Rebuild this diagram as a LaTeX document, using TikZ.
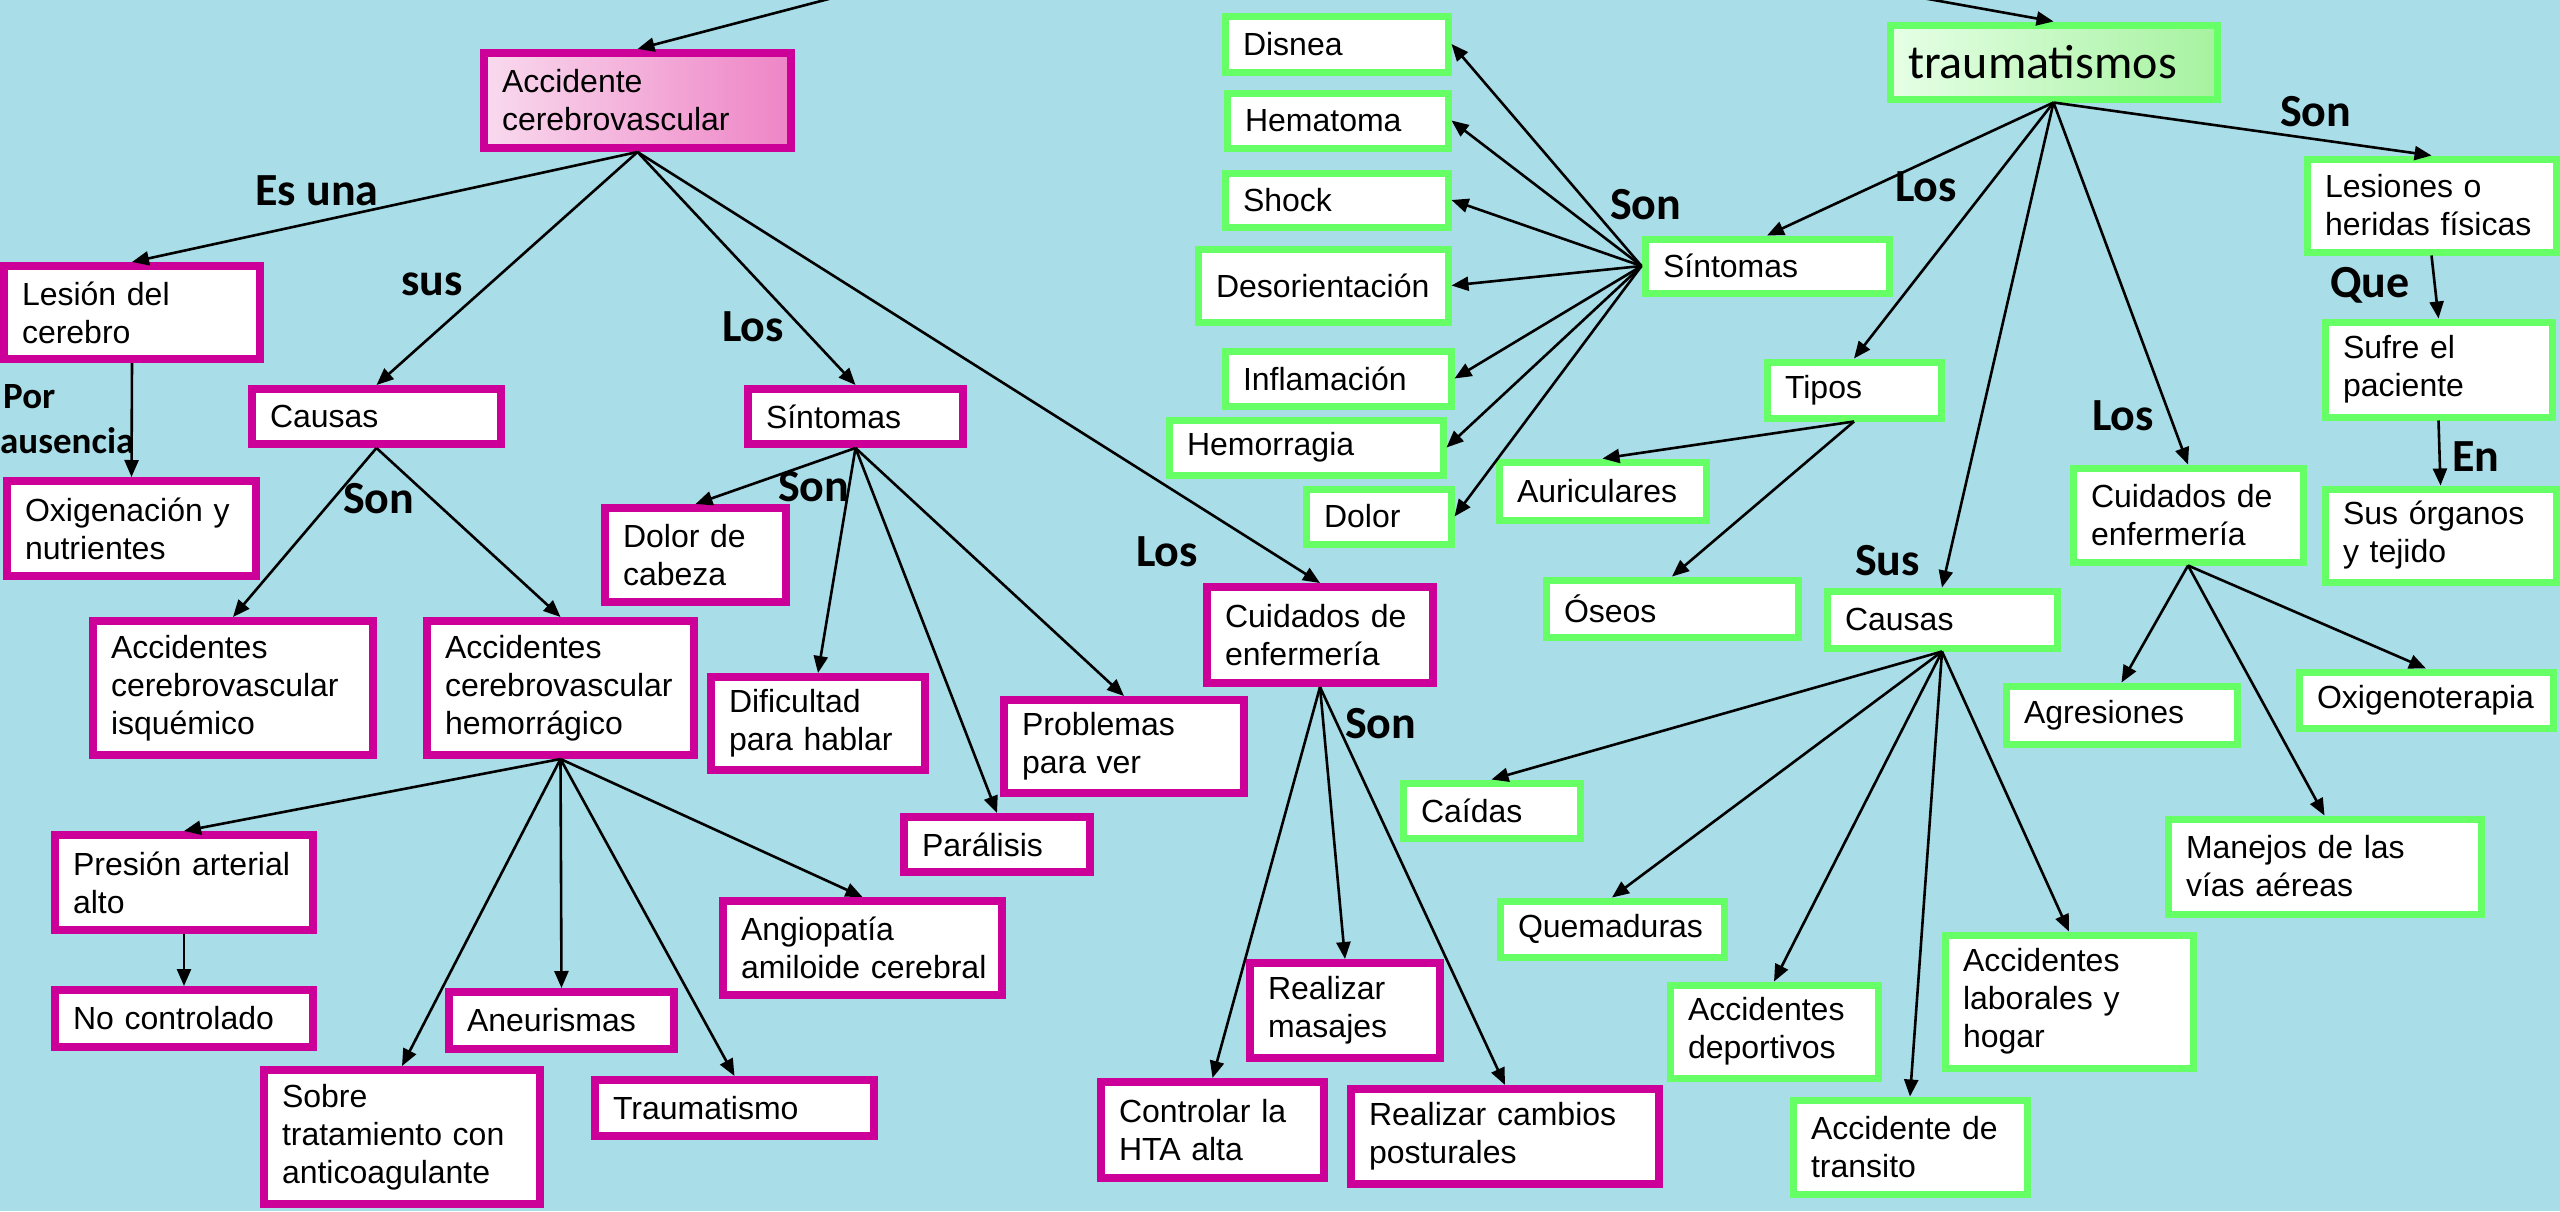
\documentclass[tikz,border=0pt]{standalone}
\usepackage{fontspec}
\setmainfont{Liberation Sans}
\newfontfamily\carlitofam{Carlito}
\usetikzlibrary{arrows.meta}
\definecolor{bgc}{HTML}{A9DDE7}
\definecolor{mag}{HTML}{CC0099}
\definecolor{grn}{HTML}{66FF66}
\definecolor{pinkL}{HTML}{F9DAEE}
\definecolor{pinkR}{HTML}{EE84C6}
\definecolor{grnL}{HTML}{E6FFE6}
\definecolor{grnR}{HTML}{A6F2A0}
\newcommand\myboxfont{\fontsize{32}{38}\selectfont\hyphenpenalty=10000\exhyphenpenalty=10000\relax}
\newcommand\mylblfont{\carlitofam\bfseries\fontsize{46}{50}\selectfont}
\newcommand\mysmallfont{\carlitofam\bfseries\fontsize{37}{45}\selectfont}
\newcommand\mytraumfont{\carlitofam\fontsize{48}{54}\selectfont}
% #1 style, #2 name, #3 x1, #4 y1, #5 x2, #6 y2, #7 text
\newcommand\mkbox[7]{%
  \pgfmathsetmacro\mkbW{#5-#3-8}%
  \pgfmathsetmacro\mkbH{#6-#4-8}%
  \pgfmathsetmacro\mkbT{#5-#3-44}%
  \node[#1, minimum width=\mkbW pt, minimum height=\mkbH pt, text width=\mkbT pt] (#2) at ({(#3+#5)/2},{(#4+#6)/2}) {#7};%
}
\tikzset{
  pbox/.style={draw=mag, line width=8pt, fill=white, inner xsep=10pt, inner ysep=0pt, align=left, font=\myboxfont},
  gbox/.style={pbox, draw=grn, line width=7pt},
  arr/.style={-{Triangle[length=17pt,width=14pt]}, line width=2.6pt, draw=black},
  lbl/.style={font=\mylblfont, inner sep=0pt, anchor=base west},
  slbl/.style={font=\mysmallfont, inner sep=0pt, anchor=base west},
}
\begin{document}
\hyphenpenalty=10000
\exhyphenpenalty=10000
\begin{tikzpicture}[x=1pt, y=-1pt]
\path[use as bounding box, fill=bgc] (0,0) rectangle (2560,1211);

% ---------------- pink (left) map ----------------
\mkbox{pbox, left color=pinkL, right color=pinkR}{acv}{480}{49}{795}{152}{Accidente\\cerebrovascular}
\mkbox{pbox}{lesion}{0}{262}{264}{363}{Lesión~del\\cerebro}
\mkbox{pbox}{oxig}{3}{477}{260}{580}{Oxigenación~y\\nutrientes}
\mkbox{pbox}{causasA}{248}{385}{505}{448}{Causas}
\mkbox{pbox}{sintA}{744}{385}{967}{448}{Síntomas}
\mkbox{pbox}{isq}{89}{617}{377}{759}{Accidentes\\cerebrovascular\\isquémico}
\mkbox{pbox}{hem}{423}{617}{698}{759}{Accidentes\\cerebrovascular\\hemorrágico}
\mkbox{pbox}{dolcab}{601}{504}{790}{606}{Dolor~de\\cabeza}
\mkbox{pbox}{dific}{707}{673}{929}{774}{Dificultad\\para~hablar}
\mkbox{pbox}{probl}{1000}{696}{1248}{797}{Problemas\\para~ver}
\mkbox{pbox}{paral}{900}{813}{1094}{876}{Parálisis}
\mkbox{pbox}{presion}{51}{831}{317}{934}{Presión~arterial\\alto}
\mkbox{pbox}{nocont}{51}{986}{317}{1051}{No~controlado}
\mkbox{pbox}{aneur}{445}{988}{678}{1053}{Aneurismas}
\mkbox{pbox}{sobre}{260}{1066}{544}{1208}{Sobre\\tratamiento~con\\anticoagulante}
\mkbox{pbox}{traumat}{591}{1076}{878}{1140}{Traumatismo}
\mkbox{pbox}{angio}{719}{897}{1006}{999}{Angiopatía\\\mbox{amiloide cerebral}}
\mkbox{pbox}{cuidA}{1203}{583}{1437}{687}{Cuidados~de\\enfermería}
\mkbox{pbox}{masaj}{1246}{959}{1444}{1062}{Realizar\\masajes}
\mkbox{pbox}{contr}{1097}{1078}{1328}{1182}{Controlar~la\\HTA~alta}
\mkbox{pbox}{postur}{1347}{1085}{1663}{1188}{Realizar~cambios\\posturales}

% ---------------- green (right) map ----------------
\mkbox{gbox, left color=grnL, right color=grnR, font=\mytraumfont}{traum}{1886}{21}{2221}{103}{traumatismos}
\mkbox{gbox}{disnea}{1221}{12}{1452}{76}{Disnea}
\mkbox{gbox}{hemat}{1223}{89}{1452}{152}{Hematoma}
\mkbox{gbox}{shock}{1221}{169}{1452}{231}{Shock}
\mkbox{gbox}{desor}{1194}{245}{1452}{326}{Desorientación}
\mkbox{gbox}{infl}{1221}{347}{1455}{410}{Inflamación}
\mkbox{gbox}{hemorr}{1165}{416}{1447}{479}{Hemorragia}
\mkbox{gbox}{dolor}{1302}{485}{1455}{548}{Dolor}
\mkbox{gbox}{sintB}{1641}{235}{1893}{297}{Síntomas}
\mkbox{gbox}{tipos}{1763}{358}{1945}{422}{Tipos}
\mkbox{gbox}{auric}{1495}{458}{1710}{524}{Auriculares}
\mkbox{gbox}{oseos}{1542}{576}{1802}{641}{Óseos}
\mkbox{gbox}{causasB}{1823}{587}{2061}{652}{Causas}
\mkbox{gbox}{cuidB}{2069}{464}{2307}{566}{Cuidados~de\\enfermería}
\mkbox{gbox}{lesiones}{2303}{155}{2560}{256}{Lesiones~o\\heridas~físicas}
\mkbox{gbox}{sufre}{2321}{318}{2556}{421}{Sufre~el\\paciente}
\mkbox{gbox}{organos}{2321}{485}{2560}{586}{Sus~órganos\\y~tejido}
\mkbox{gbox}{agres}{2002}{682}{2241}{748}{Agresiones}
\mkbox{gbox}{oxigeno}{2295}{668}{2557}{732}{Oxigenoterapia}
\mkbox{gbox}{manejos}{2164}{815}{2485}{918}{Manejos~de~las\\vías~aéreas}
\mkbox{gbox}{caidas}{1399}{779}{1584}{842}{Caídas}
\mkbox{gbox}{quem}{1496}{897}{1728}{961}{Quemaduras}
\mkbox{gbox}{deport}{1666}{981}{1882}{1082}{Accidentes\\deportivos}
\mkbox{gbox}{transito}{1789}{1096}{2031}{1198}{Accidente~de\\transito}
\mkbox{gbox}{labor}{1941}{931}{2197}{1072}{Accidentes\\laborales~y\\hogar}

% ---------------- free ends ----------------
\coordinate (topA) at (863,-10);
\coordinate (topB) at (1878,-10);

% ---------------- connectors (pink) ----------------
\draw[arr] (topA) -- (acv.north);
\draw[arr] (acv.south) -- (lesion.north);
\draw[arr] (acv.south) -- (causasA.north);
\draw[arr] (acv.south) -- (sintA.north);
\draw[arr] (acv.south) -- (cuidA.north);
\draw[arr] (lesion.south) -- (oxig.north);
\draw[arr] (causasA.south) -- (isq.north);
\draw[arr] (causasA.south) -- (hem.north);
\draw[arr] (sintA.south) -- (dolcab.north);
\draw[arr] (sintA.south) -- (dific.north);
\draw[arr] (sintA.south) -- (paral.north);
\draw[arr] (sintA.south) -- (probl.north);
\draw[arr] (hem.south) -- (presion.north);
\draw[arr] (hem.south) -- (sobre.north);
\draw[arr] (hem.south) -- (aneur.north);
\draw[arr] (hem.south) -- (traumat.north);
\draw[arr] (hem.south) -- (angio.north);
\draw[arr] (presion.south) -- (nocont.north);
\draw[arr] (cuidA.south) -- (contr.north);
\draw[arr] (cuidA.south) -- (masaj.north);
\draw[arr] (cuidA.south) -- (postur.north);

% ---------------- connectors (green) ----------------
\draw[arr] (topB) -- (traum.north);
\draw[arr] (traum.south) -- (sintB.north);
\draw[arr] (traum.south) -- (tipos.north);
\draw[arr] (traum.south) -- (causasB.north);
\draw[arr] (traum.south) -- (cuidB.north);
\draw[arr] (traum.south) -- (lesiones.north);
\draw[arr] (sintB.west) -- (disnea.east);
\draw[arr] (sintB.west) -- (hemat.east);
\draw[arr] (sintB.west) -- (shock.east);
\draw[arr] (sintB.west) -- (desor.east);
\draw[arr] (sintB.west) -- (infl.east);
\draw[arr] (sintB.west) -- (hemorr.east);
\draw[arr] (sintB.west) -- (dolor.east);
\draw[arr] (tipos.south) -- (auric.north);
\draw[arr] (tipos.south) -- (oseos.north);
\draw[arr] (causasB.south) -- (caidas.north);
\draw[arr] (causasB.south) -- (quem.north);
\draw[arr] (causasB.south) -- (deport.north);
\draw[arr] (causasB.south) -- (transito.north);
\draw[arr] (causasB.south) -- (labor.north);
\draw[arr] (cuidB.south) -- (agres.north);
\draw[arr] (cuidB.south) -- (oxigeno.north);
\draw[arr] (cuidB.south) -- (manejos.north);
\draw[arr] (lesiones.south) -- (sufre.north);
\draw[arr] (sufre.south) -- (organos.north);

% ---------------- linking words ----------------
\node[lbl] (lEsuna) at (255,205) {Es una};
\node[lbl] (lsus) at (401,295) {sus};
\node[lbl] (lLosA) at (722,341) {Los};
\node[slbl] (lPor) at (3,408) {Por};
\node[slbl] (lausencia) at (0,453) {ausencia};
\node[lbl] (lSonA) at (343,513) {Son};
\node[lbl] (lSonB) at (778,501) {Son};
\node[lbl] (lLosB) at (1136,566) {Los};
\node[lbl] (lSonC) at (1345,738) {Son};
\node[lbl] (lSonD) at (1610,219) {Son};
\node[lbl] (lLosC) at (1895,201) {Los};
\node[lbl] (lSonE) at (2280,126) {Son};
\node[lbl] (lQue) at (2330,297) {Que};
\node[lbl] (lEn) at (2452,471) {En};
\node[lbl] (lLosD) at (2092,430) {Los};
\node[lbl] (lSus) at (1855,575) {Sus};
\end{tikzpicture}
\end{document}
